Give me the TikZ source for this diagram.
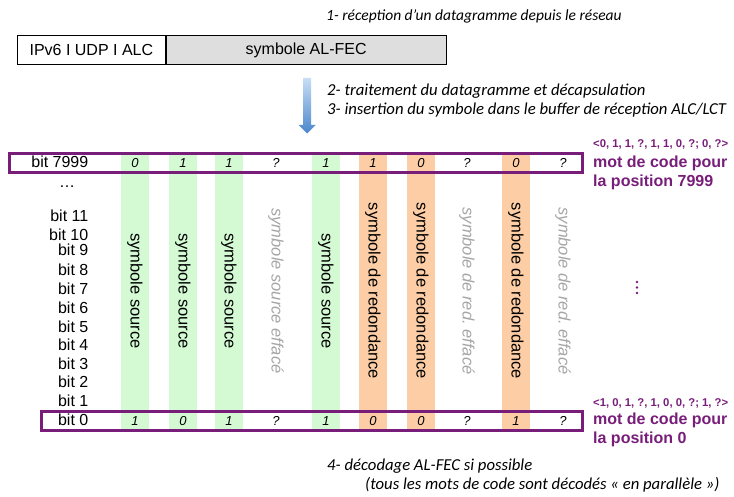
\documentclass[tikz,border=0pt]{standalone}
\usepackage{fontspec}
\setmainfont{Liberation Sans}
\newfontfamily\calfont{Carlito}
\definecolor{purp}{RGB}{120,30,122}
\definecolor{colgreen}{RGB}{212,250,212}
\definecolor{colorange}{RGB}{253,206,165}
\definecolor{grtext}{RGB}{165,165,165}
\definecolor{pktgray}{RGB}{222,222,222}
\definecolor{arrowtop}{RGB}{200,222,245}
\definecolor{arrowbot}{RGB}{74,134,204}
\begin{document}
\begin{tikzpicture}[x=1pt,y=-1pt,
  bitlab/.style={anchor=east, inner sep=0pt, font=\fontsize{16}{19}\selectfont},
  cellval/.style={inner sep=0pt, font=\fontsize{13}{15}\selectfont\itshape},
  coltext/.style={rotate=-90, inner sep=0pt, font=\fontsize{16.5}{19}\selectfont},
  erased/.style={rotate=-90, inner sep=0pt, text=grtext, font=\fontsize{16.5}{19}\selectfont\itshape},
  codeword/.style={draw=purp, line width=3pt},
  note/.style={anchor=west, inner sep=0pt, font=\calfont\fontsize{16.7}{19}\selectfont\itshape},
  purplab/.style={anchor=base west, inner sep=0pt, text=purp, font=\fontsize{16}{19}\selectfont\bfseries},
  vecl/.style={anchor=base west, inner sep=0pt, text=purp, font=\fontsize{11.3}{13}\selectfont\bfseries},
  pkt/.style={draw=black, line width=0.8pt, anchor=north west, minimum height=29, inner sep=0pt, font=\fontsize{16}{19}\selectfont}
]
\useasboundingbox (0,0) rectangle (734,497);

% step 1 note and packet
\node[note, font=\calfont\fontsize{15.5}{18}\selectfont\itshape] (s1) at (326,16) {1- réception d’un datagramme depuis le réseau};
\node[pkt, fill=white, minimum width=148] (hdr) at (17,35) {IPv6 I UDP I ALC};
\node[pkt, fill=pktgray, minimum width=280] (sym) at (hdr.north east) {symbole AL-FEC};

% arrow
\shade[top color=arrowtop, bottom color=arrowbot]
  (303,78) -- (311,78) -- (311,125) -- (315.5,125) -- (307,133.5) -- (298.5,125) -- (303,125) -- cycle;
\node[note] (s2) at (327,91) {2- traitement du datagramme et décapsulation};
\node[note] (s3) at (327,110) {3- insertion du symbole dans le buffer de réception ALC/LCT};

% columns backgrounds
\foreach \cx in {135,183,229,326} \fill[colgreen] (\cx-14,153) rectangle (\cx+14,431);
\foreach \cx in {373,421,516} \fill[colorange] (\cx-14,153) rectangle (\cx+14,431);

% column texts
\foreach \n/\cx in {1/135,2/183,3/229,5/326} \node[coltext] (txt\n) at (\cx,291) {symbole source};
\node[erased] (txt4) at (276,291) {symbole source effacé};
\foreach \n/\cx in {6/373,7/421,9/516} \node[coltext] (txt\n) at (\cx,291) {symbole de redondance};
\foreach \n/\cx in {8/467,10/563} \node[erased] (txt\n) at (\cx,291) {symbole de red.\ effacé};

% cell values
\foreach \n/\cx/\a/\b in {1/135/0/1,2/183/1/0,3/229/1/1,4/276/?/?,5/326/1/1,6/373/1/0,7/421/0/0,8/467/?/?,9/516/0/1,10/563/?/?}{
  \node[cellval] (top\n) at (\cx,163) {\a};
  \node[cellval] (bot\n) at (\cx,421) {\b};
}

% bit labels
\foreach \b/\y in {7999/162,11/216,10/235,9/250,8/270,7/289,6/308,5/327,4/345,3/364,2/382,1/401,0/420}
  \node[bitlab] (bit\b) at (88.5,\y) {bit \b};
\node[inner sep=0pt, font=\fontsize{16}{19}\selectfont] (ell) at (67,187) {…};

% codeword boxes
\draw[codeword] (9.5,153.5) rectangle (582,172.5);
\draw[codeword] (41.5,411.5) rectangle (582,430.5);

% right labels
\node[vecl] (v7999) at (593,147.7) {<0, 1, 1, ?, 1, 1, 0, ?; 0, ?>};
\node[purplab] (m7999a) at (593,167.7) {mot de code pour};
\node[purplab] (m7999b) at (593,186.7) {la position 7999};
\node[vecl] (v0) at (593,406.7) {<1, 0, 1, ?, 1, 0, 0, ?; 1, ?>};
\node[purplab] (m0a) at (593,424) {mot de code pour};
\node[purplab] (m0b) at (593,443.3) {la position 0};
\foreach \y in {282,287.5,293} \fill[purp] (637,\y) circle (1.3);

% step 4
\node[note] (s4) at (327,466) {4- décodage AL-FEC si possible};
\node[note] (s5) at (365,485) {(tous les mots de code sont décodés « en parallèle »)};
\end{tikzpicture}
\end{document}
